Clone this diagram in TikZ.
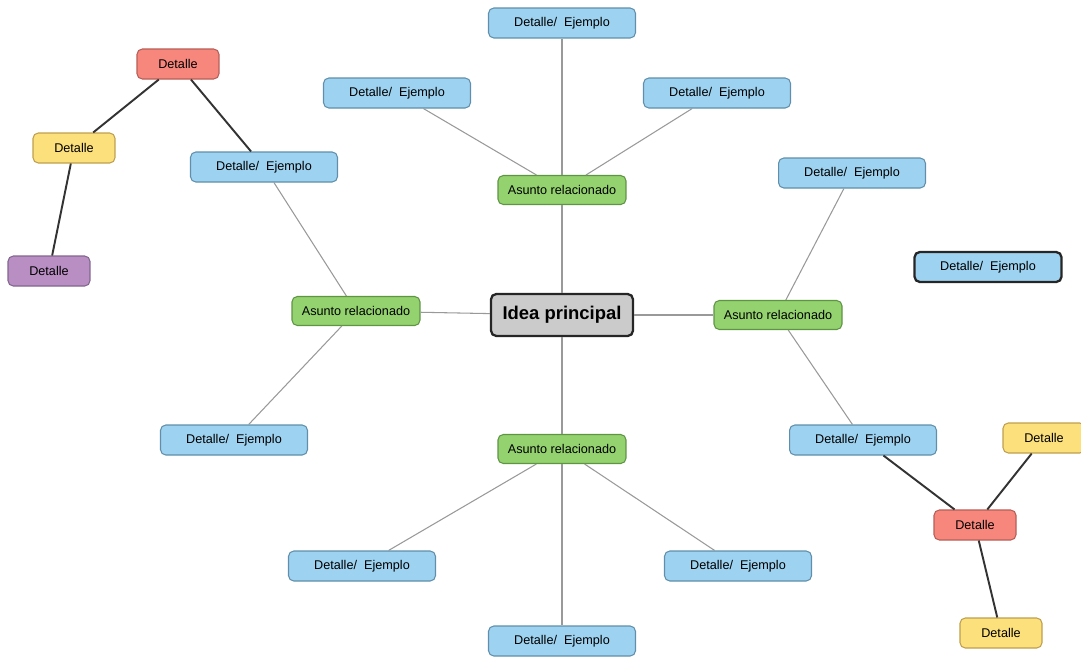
\documentclass[tikz,border=0pt]{standalone}
\usepackage{fontspec}
\setmainfont{Liberation Sans}
\setsansfont{Liberation Sans}
\usetikzlibrary{positioning}

\definecolor{bluefill}{HTML}{9DD2F0}
\definecolor{blueline}{HTML}{5F8FAA}
\definecolor{greenfill}{HTML}{93D26E}
\definecolor{greenline}{HTML}{5E9444}
\definecolor{redfill}{HTML}{F7877C}
\definecolor{redline}{HTML}{B65E56}
\definecolor{yellowfill}{HTML}{FCE07C}
\definecolor{yellowline}{HTML}{BE9F4E}
\definecolor{purplefill}{HTML}{B98EC3}
\definecolor{purpleline}{HTML}{82668E}
\definecolor{centerfill}{HTML}{CBCBCB}

\begin{document}
\begin{tikzpicture}[
  font=\sffamily,
  x=0.02cm, y=-0.02cm,
  main/.style={draw=black!85, line width=1.3pt, rounded corners=3pt, minimum width=2.84cm, minimum height=0.84cm, align=center, fill=centerfill, font=\sffamily\bfseries\fontsize{10.5}{12}\selectfont},
  topic/.style={draw=greenline, line width=0.6pt, rounded corners=3pt, minimum width=2.56cm, minimum height=0.58cm, align=center, fill=greenfill, font=\sffamily\fontsize{7.2}{8}\selectfont},
  example/.style={draw=blueline, line width=0.6pt, rounded corners=3pt, minimum width=2.94cm, minimum height=0.6cm, align=center, fill=bluefill, font=\sffamily\fontsize{7.2}{8}\selectfont},
  detail/.style={draw=#1line, line width=0.6pt, rounded corners=3pt, minimum width=1.64cm, minimum height=0.6cm, align=center, fill=#1fill, font=\sffamily\fontsize{7.2}{8}\selectfont},
  thinline/.style={draw=black!40, line width=0.6pt},
  darkline/.style={draw=black!80, line width=1.1pt}
]
\useasboundingbox (0,0) rectangle (1081,656);

% center
\node[main] (idea) at (562,315) {Idea principal};

% topics
\node[topic] (ttop)    at (562,190) {Asunto relacionado};
\node[topic] (tleft)   at (356,311) {Asunto relacionado};
\node[topic] (tright)  at (778,315) {Asunto relacionado};
\node[topic] (tbottom) at (562,449) {Asunto relacionado};

% examples
\node[example] (etop)   at (562,23)  {Detalle/\ \ Ejemplo};
\node[example] (etopl)  at (397,93)  {Detalle/\ \ Ejemplo};
\node[example] (etopr)  at (717,93)  {Detalle/\ \ Ejemplo};
\node[example] (elefta) at (264,167) {Detalle/\ \ Ejemplo};
\node[example] (eleftb) at (234,440) {Detalle/\ \ Ejemplo};
\node[example] (erighta) at (852,173) {Detalle/\ \ Ejemplo};
\node[example] (erightb) at (863,440) {Detalle/\ \ Ejemplo};
\node[example] (ebotl)  at (362,566) {Detalle/\ \ Ejemplo};
\node[example] (ebotr)  at (738,566) {Detalle/\ \ Ejemplo};
\node[example] (ebot)   at (562,641) {Detalle/\ \ Ejemplo};
\node[example, draw=black!85, line width=1.3pt] (esolo) at (988,267) {Detalle/\ \ Ejemplo};

% details, left tree
\node[detail=red]    (dla) at (178,64)  {Detalle};
\node[detail=yellow] (dlb) at (74,148)  {Detalle};
\node[detail=purple] (dlc) at (49,271)  {Detalle};

% details, right tree
\node[detail=red]    (dra) at (975,525) {Detalle};
\node[detail=yellow] (drb) at (1044,438) {Detalle};
\node[detail=yellow] (drc) at (1001,633) {Detalle};

\draw[thinline] (idea) -- (ttop);
\draw[thinline] (idea) -- (tleft);
\draw[thinline] (idea) -- (tright);
\draw[thinline] (idea) -- (tbottom);

\draw[thinline] (ttop) -- (etop);
\draw[thinline] (ttop) -- (etopl);
\draw[thinline] (ttop) -- (etopr);
\draw[thinline] (tleft) -- (elefta);
\draw[thinline] (tleft) -- (eleftb);
\draw[thinline] (tright) -- (erighta);
\draw[thinline] (tright) -- (erightb);
\draw[thinline] (tbottom) -- (ebotl);
\draw[thinline] (tbottom) -- (ebotr);
\draw[thinline] (tbottom) -- (ebot);

\draw[darkline] (dla) -- (dlb);
\draw[darkline] (dla) -- (elefta);
\draw[darkline] (dlb) -- (dlc);
\draw[darkline] (erightb) -- (dra);
\draw[darkline] (dra) -- (drb);
\draw[darkline] (dra) -- (drc);
\end{tikzpicture}
\end{document}
